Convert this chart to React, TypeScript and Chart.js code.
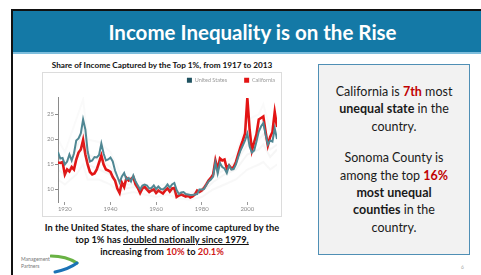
import React, { useEffect, useRef } from "react";
import { Chart, registerables } from "chart.js";

Chart.register(...registerables);

// ---------- DATA ----------
const years = [
  1917, 1918, 1919,
  1920, 1921, 1922, 1923, 1924, 1925, 1926, 1927, 1928, 1929,
  1930, 1931, 1932, 1933, 1934, 1935, 1936, 1937, 1938, 1939,
  1940, 1941, 1942, 1943, 1944, 1945, 1946, 1947, 1948, 1949,
  1950, 1951, 1952, 1953, 1954, 1955, 1956, 1957, 1958, 1959,
  1960, 1961, 1962, 1963, 1964, 1965, 1966, 1967, 1968, 1969,
  1970, 1971, 1972, 1973, 1974, 1975, 1976, 1977, 1978, 1979,
  1980, 1981, 1982, 1983, 1984, 1985, 1986, 1987, 1988, 1989,
  1990, 1991, 1992, 1993, 1994, 1995, 1996, 1997, 1998, 1999,
  2000, 2001, 2002, 2003, 2004, 2005, 2006, 2007, 2008, 2009,
  2010, 2011, 2012, 2013,
];

const usShare = [
  17.5, 16.2, 16.3,
  15.0, 15.6, 17.0, 15.8, 17.2, 19.8, 20.2, 21.2, 24.0, 22.0,
  17.6, 15.6, 15.8, 16.5, 16.4, 16.9, 19.2, 17.2, 15.8, 16.0,
  16.4, 15.6, 13.8, 12.6, 11.4, 12.6, 13.3, 12.0, 12.3, 11.6,
  12.8, 11.6, 10.8, 10.0, 10.8, 11.0, 10.8, 10.2, 10.3, 10.8,
  10.1, 10.6, 10.1, 10.0, 10.4, 11.0, 10.4, 11.0, 11.3, 9.9,
  9.1, 9.4, 9.5, 9.1, 9.0, 8.9, 8.9, 9.0, 9.1, 10.0,
  10.0, 10.1, 10.9, 11.6, 12.0, 12.6, 15.4, 13.2, 15.3, 14.5,
  14.2, 13.3, 14.8, 14.0, 14.1, 15.0, 16.5, 17.8, 18.8, 19.8,
  21.2, 18.6, 17.4, 17.8, 19.6, 21.6, 22.6, 23.3, 21.0, 19.0,
  19.8, 19.6, 22.2, 20.1,
];

const caShare = [
  15.4, 15.3, 15.5,
  13.0, 14.0, 13.6, 14.5, 14.0, 16.0, 17.4, 18.0, 19.9, 17.0,
  15.0, 13.5, 13.0, 13.2, 14.0, 15.4, 16.8, 15.0, 14.0, 13.8,
  13.5, 12.5, 11.8, 10.2, 9.3, 11.4, 10.5, 12.3, 11.8, 12.1,
  12.5, 11.0, 10.3, 9.3, 10.2, 10.5, 10.0, 9.5, 9.8, 10.0,
  9.3, 9.8, 9.5, 9.2, 9.8, 10.2, 9.6, 10.2, 10.3, 8.5,
  8.8, 9.0, 8.8, 8.6, 8.8, 8.4, 8.6, 9.0, 9.8, 9.5,
  9.8, 10.3, 11.0, 11.8, 12.3, 13.0, 15.8, 14.0, 16.2, 15.8,
  16.0, 14.2, 14.8, 14.2, 14.5, 15.5, 17.0, 18.5, 19.8, 21.2,
  28.3, 22.0, 17.8, 19.5, 21.0, 24.0, 24.3, 24.6, 21.5, 18.8,
  20.5, 21.5, 25.5, 22.5,
];

// faint background lines (other states), read at coarser years
const otherYears = [
  1917, 1920, 1925, 1928, 1930, 1935, 1940, 1945, 1950, 1955, 1960, 1965,
  1970, 1975, 1980, 1985, 1990, 1995, 2000, 2005, 2007, 2010, 2013,
];
const otherStateA = [
  20.0, 17.5, 24.0, 28.0, 20.0, 19.5, 17.5, 12.5, 12.2, 11.0, 10.6, 11.2,
  9.6, 9.2, 10.2, 13.0, 15.0, 17.0, 24.0, 25.0, 27.0, 22.0, 24.0,
];
const otherStateB = [
  12.0, 11.0, 13.0, 15.0, 12.0, 12.0, 11.0, 9.0, 9.5, 9.0, 8.5, 9.0,
  8.2, 8.0, 8.5, 10.0, 11.0, 12.0, 14.0, 15.0, 15.5, 14.0, 15.0,
];
const otherStateC = [
  14.0, 13.0, 16.0, 19.0, 15.0, 14.0, 13.0, 10.0, 10.5, 10.0, 9.5, 10.0,
  9.0, 8.7, 9.5, 11.5, 13.0, 14.0, 17.0, 18.0, 19.0, 16.5, 18.0,
];
const otherStateD = [
  16.0, 15.0, 18.0, 22.0, 17.0, 16.0, 14.5, 11.0, 11.0, 10.2, 9.8, 10.5,
  9.2, 8.8, 9.8, 12.5, 14.0, 15.5, 19.0, 20.0, 21.0, 18.0, 19.0,
];

const xTickYears = [1920, 1940, 1960, 1980, 2000];
const yTickValues = [10, 15, 20, 25];
const legendNames = ["United States", "California"];

const FONT = "Lato, 'Open Sans', sans-serif";

function pts(xs: number[], ys: number[]) {
  return xs.map((x, i) => ({ x, y: ys[i] }));
}

const legendTweak = {
  id: "legendTweak",
  beforeLayout(chart: any) {
    const lg = chart.legend;
    if (lg && !lg.__patched) {
      const orig = lg.fit.bind(lg);
      lg.fit = function () {
        orig();
        this.height = 24;
      };
      lg.__patched = true;
    }
  },
  afterLayout(chart: any) {
    const lg = chart.legend;
    if (lg) {
      lg.top -= 12.5;
      lg.bottom -= 12.5;
      lg.right += 15;
    }
  },
};

function IncomeChart() {
  const ref = useRef<HTMLCanvasElement | null>(null);
  useEffect(() => {
    if (!ref.current) return;
    const gray = (a: number) => `rgba(150,150,150,${a})`;
    const chart = new Chart(ref.current, {
      type: "line",
      data: {
        datasets: [
          { label: "A", data: pts(otherYears, otherStateA), borderColor: gray(0.05), borderWidth: 2 },
          { label: "B", data: pts(otherYears, otherStateB), borderColor: gray(0.07), borderWidth: 2 },
          { label: "C", data: pts(otherYears, otherStateC), borderColor: gray(0.09), borderWidth: 2 },
          { label: "D", data: pts(otherYears, otherStateD), borderColor: gray(0.09), borderWidth: 2 },
          {
            label: "United States",
            data: pts(years, usShare),
            borderColor: "#4f8793",
            backgroundColor: "#1f5260",
            borderWidth: 2,
          },
          {
            label: "California",
            data: pts(years, caShare),
            borderColor: "#e31414",
            backgroundColor: "#e31414",
            borderWidth: 2.6,
          },
        ] as any,
      },
      plugins: [legendTweak],
      options: {
        animation: false,
        responsive: true,
        maintainAspectRatio: false,
        elements: { point: { radius: 0 }, line: { tension: 0 } },
        layout: { padding: { left: 0, right: 5, top: 1, bottom: 3 } },
        plugins: {
          tooltip: { enabled: false },
          legend: {
            position: "top",
            align: "end",
            labels: {
              boxWidth: 5,
              boxHeight: 5,
              padding: 17,
              color: "#9a9a9a",
              font: { size: 5.5, family: FONT },
              generateLabels: (c: any) =>
                c.data.datasets
                  .map((ds: any, i: number) => ({
                    text: ds.label,
                    fillStyle: ds.backgroundColor,
                    strokeStyle: ds.backgroundColor,
                    lineWidth: 0,
                    hidden: false,
                    datasetIndex: i,
                    fontColor: "#9a9a9a",
                  }))
                  .filter((it: any) => legendNames.includes(it.text)),
            },
          },
        },
        scales: {
          x: {
            type: "linear",
            min: 1917,
            max: 2013,
            afterBuildTicks: (s: any) => {
              s.ticks = xTickYears.map((v) => ({ value: v }));
            },
            afterFit: (s: any) => {
              s.height = 12;
            },
            ticks: {
              callback: (v: any) => String(v),
              color: "#8a8a8a",
              font: { size: 6, family: FONT },
              padding: 0,
              maxRotation: 0,
              autoSkip: false,
            },
            grid: { display: true, drawOnChartArea: false, drawTicks: true, tickLength: 3, color: "#9a9a9a" },
            border: { display: false },
          },
          y: {
            min: 7.5,
            max: 28.5,
            afterBuildTicks: (s: any) => {
              s.ticks = yTickValues.map((v) => ({ value: v }));
            },
            afterFit: (s: any) => {
              s.width = 16;
            },
            ticks: {
              color: "#8a8a8a",
              font: { size: 6, family: FONT },
              padding: 1,
            },
            grid: { display: true, drawOnChartArea: false, drawTicks: true, tickLength: 3, color: "#8a8a8a" },
            border: { display: true, color: "#8a8a8a", width: 1 },
          },
        },
      } as any,
    });
    return () => chart.destroy();
  }, []);
  return <canvas ref={ref} />;
}

const abs = (s: React.CSSProperties): React.CSSProperties => ({ position: "absolute", ...s });

export default function App() {
  return (
    <div
      style={{
        position: "fixed",
        left: 0,
        top: 0,
        width: 481,
        height: 275,
        overflow: "hidden",
        background: "#ffffff",
        fontFamily: FONT,
      }}
    >
      {/* slide frame */}
      <div style={abs({ left: 11, top: 9, width: 470, height: 1.5, background: "#111" })} />
      <div style={abs({ left: 11, top: 9, width: 2, height: 266, background: "#111" })} />
      {/* title bar */}
      <div style={abs({ left: 13, top: 10.5, width: 468, height: 41.5, background: "#1479a6" })} />
      <div style={abs({ left: 13, top: 52, width: 468, height: 2, background: "#7dbedd" })} />
      <div
        style={abs({
          left: 0,
          top: 18.5,
          width: 505,
          textAlign: "center",
          color: "#fff",
          fontWeight: 700,
          fontSize: 20.5,
          lineHeight: "26px",
        })}
      >
        Income Inequality is on the Rise
      </div>

      {/* chart title */}
      <div
        style={abs({
          left: 22,
          top: 60,
          width: 280,
          textAlign: "center",
          color: "#111",
          fontWeight: 700,
          fontSize: 8.2,
          lineHeight: "10px",
          whiteSpace: "nowrap",
        })}
      >
        Share of Income Captured by the Top 1%, from 1917 to 2013
      </div>

      {/* chart box */}
      <div
        style={abs({
          left: 42,
          top: 72,
          width: 240,
          height: 145,
          boxSizing: "border-box",
          border: "1px solid #dcdcdc",
        })}
      />
      <div style={abs({ left: 42, top: 72, width: 240, height: 145 })}>
        <IncomeChart />
      </div>

      {/* caption */}
      <div
        style={abs({
          left: 12,
          top: 222,
          width: 300,
          textAlign: "center",
          color: "#111",
          fontWeight: 700,
          fontSize: 9.3,
          lineHeight: "12px",
          whiteSpace: "nowrap",
        })}
      >
        <div>In the United States, the share of income captured by the</div>
        <div>
          top 1% has <span style={{ textDecoration: "underline" }}>doubled nationally since 1979,</span>
        </div>
        <div>
          increasing from <span style={{ color: "#d01818" }}>10%</span> to{" "}
          <span style={{ color: "#d01818" }}>20.1%</span>
        </div>
      </div>

      {/* logo */}
      <div
        style={abs({
          left: 21,
          top: 256,
          color: "#777",
          fontSize: 5,
          lineHeight: "7px",
        })}
      >
        <div>Management</div>
        <div>Partners</div>
      </div>
      <svg style={abs({ left: 50, top: 254, width: 30, height: 20 })} viewBox="0 0 30 20">
        <path d="M1 2 Q16 2 27 9" stroke="#69b244" strokeWidth="3" fill="none" strokeLinecap="round" />
        <path d="M27 9 Q19 15 5 18" stroke="#1b73b6" strokeWidth="3" fill="none" strokeLinecap="round" />
      </svg>

      {/* right box */}
      <div
        style={abs({
          left: 318,
          top: 64,
          width: 152,
          height: 191,
          boxSizing: "border-box",
          border: "1.5px solid #4f8fb5",
          background: "#f2f2f2",
        })}
      />
      <div
        style={abs({
          left: 318,
          top: 83,
          width: 152,
          textAlign: "center",
          color: "#1a1a1a",
          fontSize: 12.5,
          lineHeight: "17.3px",
        })}
      >
        <div>
          California is <b style={{ color: "#c00000" }}>7th</b> most
        </div>
        <div>
          <b>unequal state</b> in the
        </div>
        <div>country.</div>
        <div style={{ height: 14.6 }} />
        <div>Sonoma County is</div>
        <div>
          among the top <b style={{ color: "#c00000" }}>16%</b>
        </div>
        <div>
          <b>most unequal</b>
        </div>
        <div>
          <b>counties</b> in the
        </div>
        <div>country.</div>
      </div>

      {/* page number */}
      <div style={abs({ left: 461, top: 264, color: "#aaa", fontSize: 5 })}>6</div>
    </div>
  );
}
